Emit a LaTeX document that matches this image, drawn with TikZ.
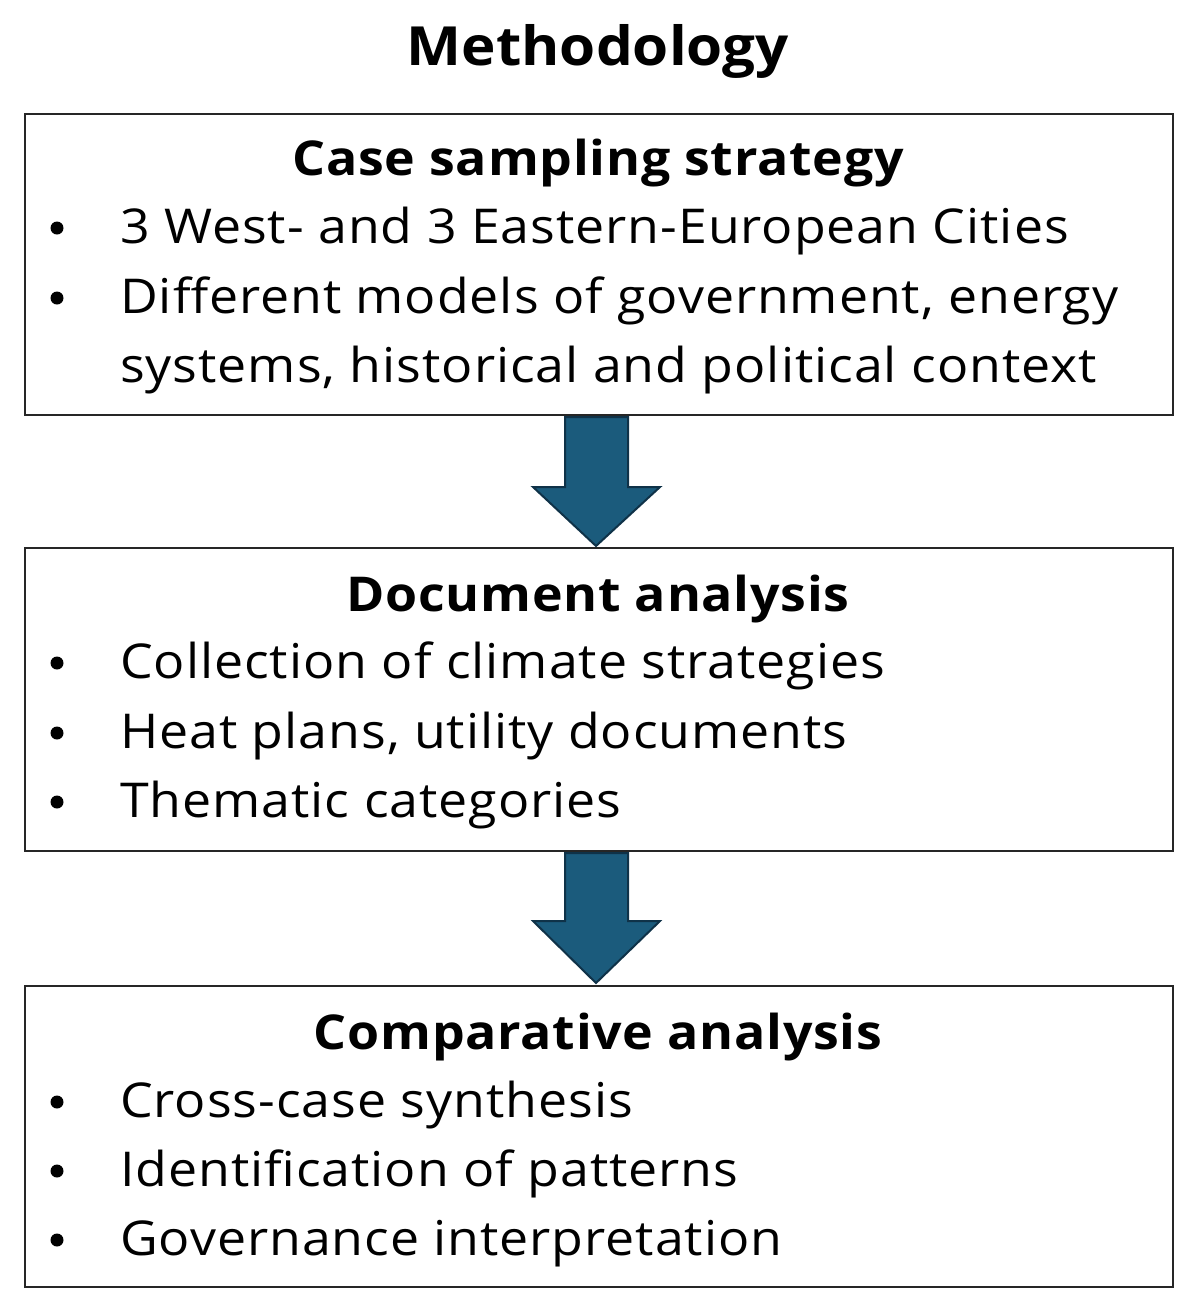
\documentclass[tikz,border=0pt]{standalone}
\usepackage{fontspec}
\setmainfont{Open Sans}
\newfontfamily\bodyfont[FakeStretch=1.08, LetterSpace=2]{Open Sans}
\newfontfamily\headfont[FakeStretch=1.08, LetterSpace=1.5]{Open Sans}
\newfontfamily\titlefont[FakeStretch=1.08]{Open Sans}
\definecolor{arrowfill}{HTML}{1B5B7C}
\definecolor{arrowline}{HTML}{0F3248}
\definecolor{boxline}{HTML}{262626}
\tikzset{
  x=1pt, y=-1pt,
  stepbox/.style={draw=boxline, line width=2pt},
  head/.style={anchor=base, inner sep=0pt, font=\headfont\fontsize{48}{52}\selectfont\bfseries},
  item/.style={anchor=base west, inner sep=0pt, font=\bodyfont\fontsize{48}{52}\selectfont},
  dot/.style={circle, fill=black, inner sep=0pt, minimum size=13pt},
  flow/.style={fill=arrowfill, draw=arrowline, line width=2pt, line join=miter}
}
\begin{document}
\begin{tikzpicture}
\useasboundingbox (0,0) rectangle (1200,1315);
\node[anchor=base, inner sep=0pt, font=\titlefont\fontsize{54}{60}\selectfont\bfseries] (title) at (598,65) {Methodology};

\draw[stepbox] (25,114) rectangle (1173,415);
\node[head] (h1) at (598,175) {Case sampling strategy};
\node[dot] (d11) at (57,228) {};
\node[item] (t11) at (120,243) {3 West- and 3 Eastern-European Cities};
\node[dot] (d12) at (57,298) {};
\node[item] (t12) at (120,313) {Different models of government, energy};
\node[item] (t13) at (120,382) {systems, historical and political context};

\draw[flow] (565,417) -- (628,417) -- (628,487) -- (660,487) -- (596,546) -- (533,487) -- (565,487) -- cycle;

\draw[stepbox] (25,548) rectangle (1173,851);
\node[head] (h2) at (598,611) {Document analysis};
\node[dot] (d21) at (57,663) {};
\node[item] (t21) at (120,678) {Collection of climate strategies};
\node[dot] (d22) at (57,733) {};
\node[item] (t22) at (120,748) {Heat plans, utility documents};
\node[dot] (d23) at (57,802) {};
\node[item] (t23) at (120,817) {Thematic categories};

\draw[flow] (565,853) -- (628,853) -- (628,921) -- (660,921) -- (596,983) -- (533,921) -- (565,921) -- cycle;

\draw[stepbox] (25,986) rectangle (1173,1287);
\node[head] (h3) at (598,1049) {Comparative analysis};
\node[dot] (d31) at (57,1102) {};
\node[item] (t31) at (120,1117) {Cross-case synthesis};
\node[dot] (d32) at (57,1171) {};
\node[item] (t32) at (120,1186) {Identification of patterns};
\node[dot] (d33) at (57,1240) {};
\node[item] (t33) at (120,1255) {Governance interpretation};
\end{tikzpicture}
\end{document}
